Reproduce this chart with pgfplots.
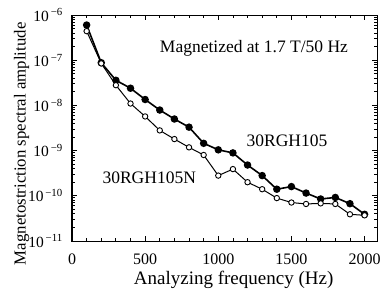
\documentclass[border=0pt]{standalone}
\usepackage{pgfplots}
\pgfplotsset{compat=1.18}
\usepackage{fontspec}
\setmainfont{Liberation Serif}
\begin{document}
\fontsize{15}{18}\selectfont
\begin{tikzpicture}
\begin{axis}[
  name=ax,
  scale only axis, width=305pt, height=226pt,
  xmin=0, xmax=2085, ymode=log, ymin=1e-11, ymax=1e-6,
  xtick={0,500,1000,1500,2000},
  minor xtick={100,200,300,400,600,700,800,900,1100,1200,1300,1400,1600,1700,1800,1900},
  ytick={1e-11,1e-10,1e-9,1e-8,1e-7,1e-6},
  yticklabels={10\textsuperscript{\,−11},10\textsuperscript{\,−10},10\textsuperscript{\,−9},10\textsuperscript{\,−8},10\textsuperscript{\,−7},10\textsuperscript{\,−6}},
  /pgf/number format/assume math mode=true,
  /pgf/number format/1000 sep={},
  tick align=inside, ticks=both, xtick pos=both, ytick pos=both,
  major tick length=5pt, minor tick length=3pt,
  every tick/.style={black, line width=0.8pt},
  axis line style={line width=1pt},
  xlabel={Analyzing frequency (Hz)},
  ylabel={Magnetostriction spectral amplitude},
  every axis x label/.style={at={(rel axis cs:0.53,-0.171)}, anchor=center, font=\fontsize{19}{21}\selectfont},
  every axis y label/.style={at={(rel axis cs:-0.165,0.43)}, anchor=center, rotate=90, font=\fontsize{16.8}{19}\selectfont},
  xticklabel style={anchor=base, yshift=-23pt, font=\fontsize{16}{18}\selectfont},
  yticklabel style={xshift=-4pt, font=\fontsize{15.5}{18}\selectfont},
  clip=false,
]
\addplot[black, line width=1.6pt, mark=*, mark size=2.9pt] coordinates {
(100,6.0e-7) (200,8.8e-8) (300,3.6e-8) (400,2.4e-8) (500,1.35e-8)
(600,7.9e-9) (700,5.0e-9) (800,3.3e-9) (900,1.45e-9) (1000,1.04e-9)
(1100,8.9e-10) (1200,4.8e-10) (1300,2.8e-10) (1400,1.4e-10) (1500,1.6e-10)
(1600,1.15e-10) (1700,8.5e-11) (1800,9.2e-11) (1900,6.7e-11) (2000,3.9e-11)
};
\addplot[black, line width=1.0pt, mark=*, mark size=2.7pt, mark options={fill=white, line width=0.9pt}] coordinates {
(100,4.4e-7) (200,8.5e-8) (300,2.8e-8) (400,1.1e-8) (500,5.7e-9)
(600,2.8e-9) (700,1.8e-9) (800,1.18e-9) (900,8.0e-10) (1000,2.8e-10)
(1100,3.9e-10) (1200,2.0e-10) (1300,1.4e-10) (1400,8.9e-11) (1500,7.1e-11)
(1600,6.6e-11) (1700,6.8e-11) (1800,6.6e-11) (1900,3.9e-11) (2000,3.7e-11)
};
\node[font=\fontsize{17.5}{20}\selectfont] at (axis cs:1244,1.85e-7) {Magnetized at 1.7 T/50 Hz};
\node[font=\fontsize{17.5}{20}\selectfont] at (axis cs:1470,1.67e-9) {30RGH105};
\node[font=\fontsize{17.5}{20}\selectfont] at (axis cs:528,2.56e-10) {30RGH105N};
\end{axis}
\pgfresetboundingbox
\path ([shift={(-72pt,-48pt)}]ax.south west) rectangle ([shift={(7pt,15pt)}]ax.north east);
\end{tikzpicture}
\end{document}
